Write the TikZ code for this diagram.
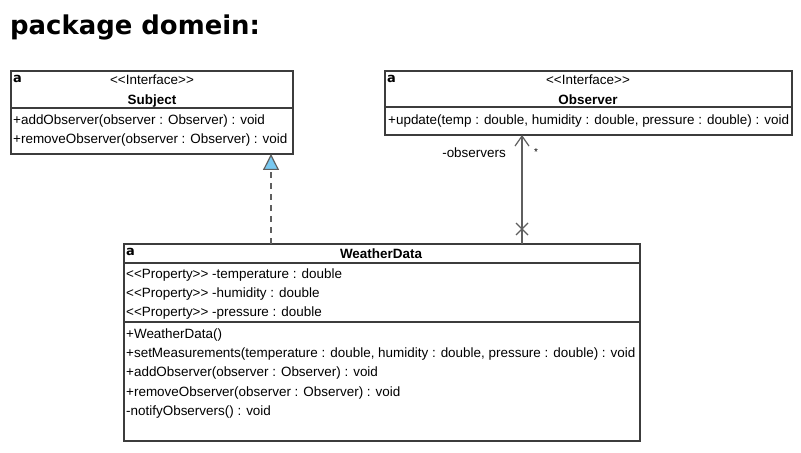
\documentclass[tikz,border=0pt]{standalone}
\usepackage{fontspec}
\setmainfont{Liberation Sans}
\newfontfamily\titlefont{DejaVu Sans}
\usetikzlibrary{arrows.meta}
\definecolor{bordercol}{RGB}{60,60,60}
\definecolor{linkcol}{RGB}{95,95,95}
\definecolor{triblue}{RGB}{120,200,240}
\tikzset{
  umlbox/.style={draw=bordercol, line width=1.2bp, anchor=north west, inner sep=0, outer sep=0},
  divider/.style={draw=bordercol, line width=1.2bp},
  txt/.style={font=\fontsize{13.5}{16}\selectfont, inner sep=0, anchor=base west},
  ctxt/.style={font=\fontsize{13.5}{16}\selectfont, inner sep=0, anchor=base},
  btxt/.style={font=\fontsize{13.5}{16}\selectfont\bfseries, inner sep=0, anchor=base},
  icon/.style={font=\titlefont\fontsize{13}{14}\selectfont\bfseries, inner sep=0, anchor=base west},
  link/.style={draw=linkcol, line width=1.2bp},
}
\begin{document}
\begin{tikzpicture}[x=1bp,y=-1bp]
\useasboundingbox (0,0) rectangle (801,453);
\fill[white] (0,0) rectangle (801,453);
% title
\node[font=\titlefont\fontsize{26}{30}\selectfont\bfseries, inner sep=0, anchor=base west] (title) at (10,35) {package domein:};

% Subject
\node[umlbox, minimum width=282bp, minimum height=83bp] (subj) at (11,71) {};
\draw[divider] (11,108) -- (293,108);
\node[icon] (subjicon) at (13,83) {a};
\node[ctxt] (subjst) at (152,85) {<{}<Interface>{}>};
\node[btxt] (subjname) at (152,105) {Subject};
\node[txt] (subjm1) at (13,125) {+addObserver(observer : Observer) : void};
\node[txt] (subjm2) at (13,144) {+removeObserver(observer : Observer) : void};

% Observer
\node[umlbox, minimum width=407bp, minimum height=64bp] (obs) at (385,71) {};
\draw[divider] (385,107) -- (792,107);
\node[icon] (obsicon) at (387,83) {a};
\node[ctxt] (obsst) at (588,85) {<{}<Interface>{}>};
\node[btxt] (obsname) at (588,105) {Observer};
\node[txt] (obsm1) at (388,125) {+update(temp : double, humidity : double, pressure : double) : void};

% WeatherData
\node[umlbox, minimum width=516bp, minimum height=197bp] (wd) at (124,244) {};
\draw[divider] (124,263) -- (640,263);
\draw[divider] (124,322) -- (640,322);
\node[icon] (wdicon) at (126,256) {a};
\node[btxt] (wdname) at (381,259) {WeatherData};
\node[txt] (wdp1) at (126,279) {<{}<Property>{}> -temperature : double};
\node[txt] (wdp2) at (126,298) {<{}<Property>{}> -humidity : double};
\node[txt] (wdp3) at (126,317) {<{}<Property>{}> -pressure : double};
\node[txt] (wdm1) at (126,339) {+WeatherData()};
\node[txt] (wdm2) at (126,358) {+setMeasurements(temperature : double, humidity : double, pressure : double) : void};
\node[txt] (wdm3) at (126,377) {+addObserver(observer : Observer) : void};
\node[txt] (wdm4) at (126,396) {+removeObserver(observer : Observer) : void};
\node[txt] (wdm5) at (126,415) {-notifyObservers() : void};

% realization WeatherData -> Subject
\coordinate (real) at (271,0);
\draw[link, dash pattern=on 6bp off 5bp, -{Triangle[length=16bp,width=16bp,fill=triblue]}] (wd.north -| real) -- (subj.south -| real);

% association WeatherData -> Observer
\coordinate (assoc) at (522,0);
\draw[link, -{Straight Barb[length=10bp,width=14bp]}] (wd.north -| assoc) -- (obs.south -| assoc);
\coordinate (xm) at (522,229);
\draw[link] (xm) +(-6,-6) -- +(6,6);
\draw[link] (xm) +(-6,6) -- +(6,-6);
\node[txt, anchor=base east] (rolelbl) at (506,158) {-observers};
\node[txt, font=\fontsize{10}{12}\selectfont] (multlbl) at (534,156) {*};
\end{tikzpicture}
\end{document}
